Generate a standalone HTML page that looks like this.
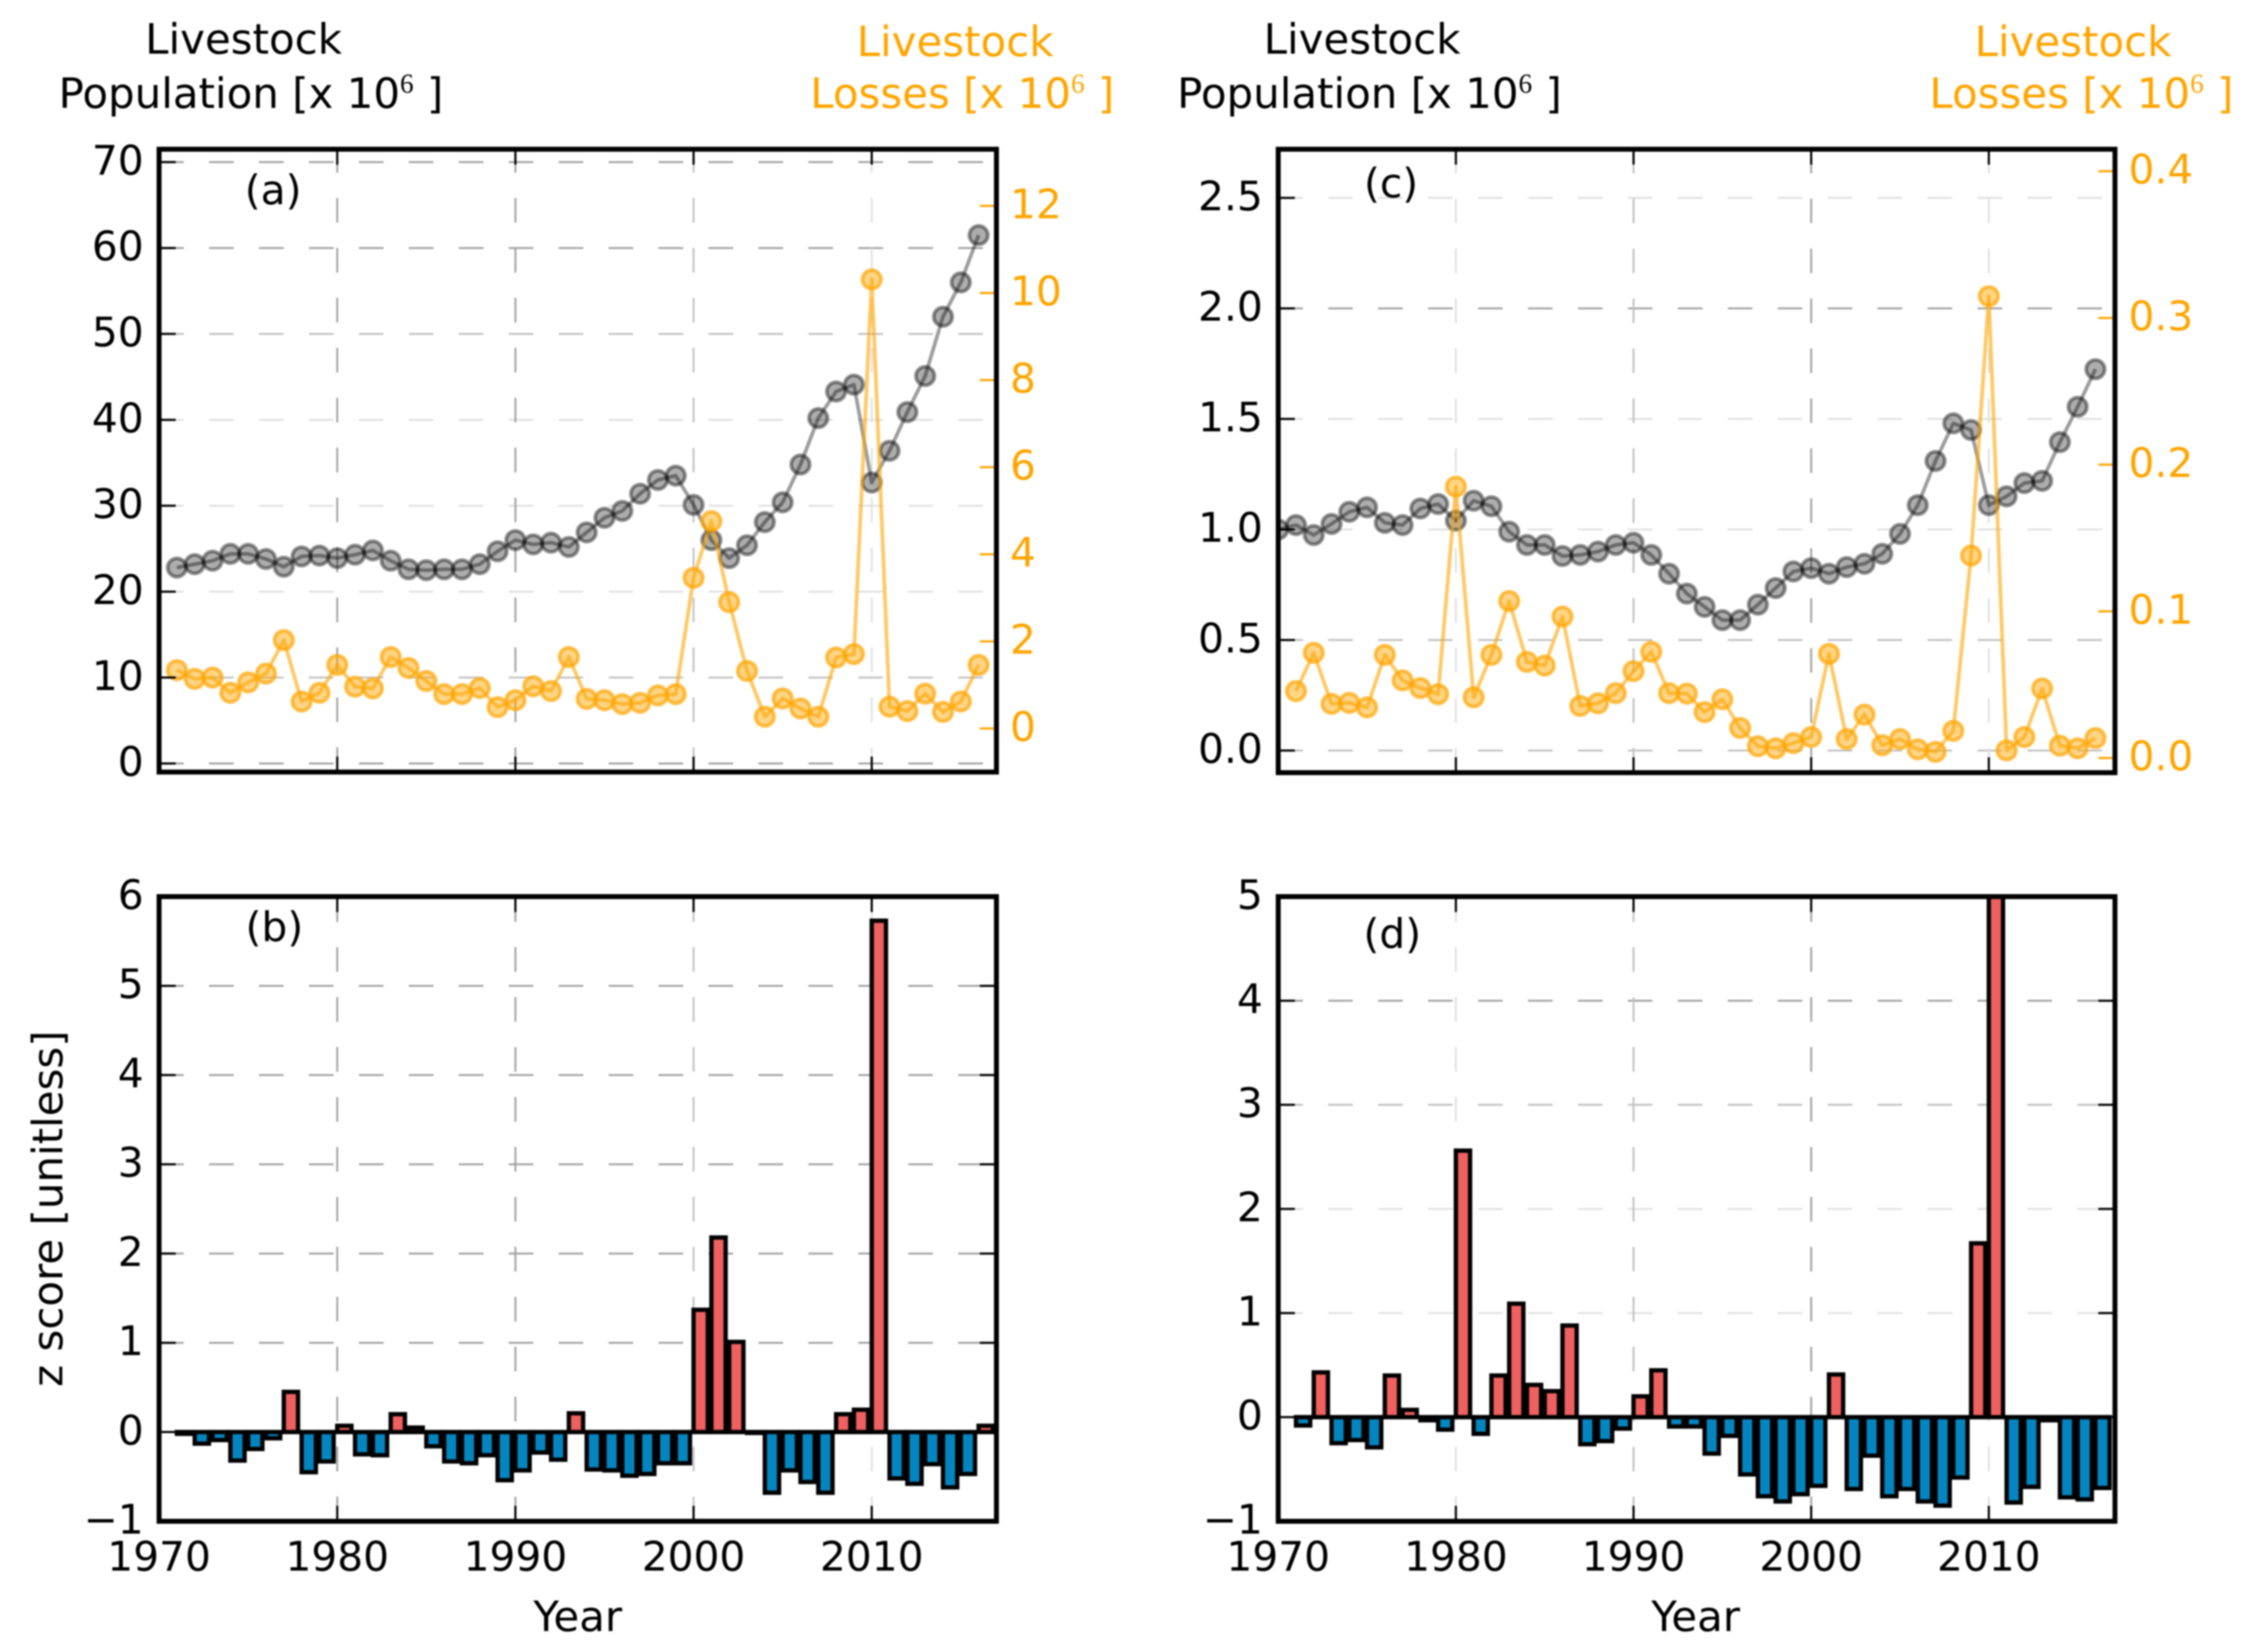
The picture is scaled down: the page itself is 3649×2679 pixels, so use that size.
<!DOCTYPE html>
<html lang="en">
<head>
<meta charset="utf-8">
<title>Livestock population and losses</title>
<style>
html,body{margin:0;padding:0;background:#fff;}
svg{display:block;filter:blur(1.2px);}
text{font-family:"DejaVu Sans","Liberation Sans",sans-serif;}
</style>
</head>
<body>
<svg id="figure" xmlns="http://www.w3.org/2000/svg" width="3649" height="2679" viewBox="0 0 3649 2679">
  <rect width="3649" height="2679" fill="#fff"/>
  <defs>
    <clipPath id="clip-a"><rect x="258" y="242" width="1358" height="1010"/></clipPath>
    <clipPath id="clip-b"><rect x="258" y="1454" width="1358" height="1013"/></clipPath>
    <clipPath id="clip-c"><rect x="2073" y="242" width="1357" height="1011"/></clipPath>
    <clipPath id="clip-d"><rect x="2073" y="1454" width="1357" height="1013"/></clipPath>
  </defs>
  <g id="panel-a"></g>
  <g id="panel-b"></g>
  <g id="panel-c"></g>
  <g id="panel-d"></g>

  <text x="395" y="87" font-size="68" text-anchor="middle" fill="#000">Livestock</text>
  <text x="95" y="175" font-size="68" fill="#000">Population [x 10<tspan font-size="44" dy="-25" font-family="Liberation Serif, serif">6</tspan><tspan dy="25"> ]</tspan></text>
  <text x="1549" y="91" font-size="68" text-anchor="middle" fill="#ffa500">Livestock</text>
  <text x="1314" y="175" font-size="68" fill="#ffa500">Losses [x 10<tspan font-size="44" dy="-25" font-family="Liberation Serif, serif">6</tspan><tspan dy="25"> ]</tspan></text>

  <text x="2209" y="87" font-size="68" text-anchor="middle" fill="#000">Livestock</text>
  <text x="1909" y="175" font-size="68" fill="#000">Population [x 10<tspan font-size="44" dy="-25" font-family="Liberation Serif, serif">6</tspan><tspan dy="25"> ]</tspan></text>
  <text x="3362" y="91" font-size="68" text-anchor="middle" fill="#ffa500">Livestock</text>
  <text x="3129" y="175" font-size="68" fill="#ffa500">Losses [x 10<tspan font-size="44" dy="-25" font-family="Liberation Serif, serif">6</tspan><tspan dy="25"> ]</tspan></text>

  <text transform="translate(101,1960) rotate(-90)" font-size="68" text-anchor="middle" fill="#000">z score [unitless]</text>
  <text x="937" y="2645" font-size="68" text-anchor="middle" fill="#000">Year</text>
  <text x="2750" y="2645" font-size="68" text-anchor="middle" fill="#000">Year</text>
</svg>

<script>
// ---- shared axis data ----
const xTickValues = [1970, 1980, 1990, 2000, 2010];
const xTickLabels = ["1970", "1980", "1990", "2000", "2010"];

// ---- panel (a) ----
const yearsA = [1971,1972,1973,1974,1975,1976,1977,1978,1979,1980,1981,1982,1983,1984,1985,1986,1987,1988,1989,1990,1991,1992,1993,1994,1995,1996,1997,1998,1999,2000,2001,2002,2003,2004,2005,2006,2007,2008,2009,2010,2011,2012,2013,2014,2015,2016];
const populationA = [22.8,23.2,23.6,24.4,24.4,23.8,22.9,24.1,24.2,23.9,24.3,24.8,23.6,22.6,22.5,22.6,22.6,23.2,24.7,26.0,25.5,25.7,25.2,26.9,28.6,29.4,31.4,33.0,33.5,30.1,26.0,23.9,25.4,28.1,30.4,34.8,40.2,43.3,44.1,32.7,36.4,40.9,45.1,52.0,56.0,61.5];
const lossesA = [1.34,1.14,1.17,0.82,1.06,1.26,2.03,0.62,0.82,1.46,0.96,0.92,1.64,1.39,1.09,0.79,0.79,0.93,0.49,0.65,0.97,0.86,1.64,0.68,0.65,0.56,0.59,0.76,0.79,3.46,4.76,2.90,1.32,0.27,0.69,0.46,0.27,1.63,1.71,10.31,0.50,0.40,0.80,0.38,0.62,1.46];
const leftTicksA = [0,10,20,30,40,50,60,70];
const leftTickLabelsA = ["0","10","20","30","40","50","60","70"];
const rightTicksA = [0,2,4,6,8,10,12];
const rightTickLabelsA = ["0","2","4","6","8","10","12"];

// ---- panel (b) ----
const yearsB = [1971,1972,1973,1974,1975,1976,1977,1978,1979,1980,1981,1982,1983,1984,1985,1986,1987,1988,1989,1990,1991,1992,1993,1994,1995,1996,1997,1998,1999,2000,2001,2002,2003,2004,2005,2006,2007,2008,2009,2010,2011,2012,2013,2014,2015,2016];
const zScoresB = [-0.02,-0.13,-0.09,-0.32,-0.19,-0.07,0.45,-0.45,-0.33,0.07,-0.25,-0.26,0.20,0.05,-0.16,-0.33,-0.35,-0.26,-0.54,-0.43,-0.23,-0.31,0.21,-0.42,-0.43,-0.49,-0.47,-0.35,-0.35,1.37,2.18,1.01,-0.01,-0.68,-0.43,-0.56,-0.68,0.20,0.25,5.73,-0.52,-0.58,-0.36,-0.62,-0.47,0.07];
const leftTicksB = [-1,0,1,2,3,4,5,6];
const leftTickLabelsB = ["\u22121","0","1","2","3","4","5","6"];

// ---- panel (c) ----
const populationYearsC = [1970,1971,1972,1973,1974,1975,1976,1977,1978,1979,1980,1981,1982,1983,1984,1985,1986,1987,1988,1989,1990,1991,1992,1993,1994,1995,1996,1997,1998,1999,2000,2001,2002,2003,2004,2005,2006,2007,2008,2009,2010,2011,2012,2013,2014,2015,2016];
const populationC = [1.00,1.02,0.975,1.025,1.08,1.10,1.03,1.02,1.095,1.115,1.04,1.13,1.105,0.99,0.93,0.93,0.88,0.885,0.90,0.93,0.94,0.885,0.80,0.71,0.65,0.59,0.59,0.66,0.735,0.81,0.825,0.80,0.83,0.845,0.89,0.98,1.11,1.31,1.48,1.45,1.11,1.15,1.21,1.22,1.395,1.555,1.725];
const lossYearsC = [1971,1972,1973,1974,1975,1976,1977,1978,1979,1980,1981,1982,1983,1984,1985,1986,1987,1988,1989,1990,1991,1992,1993,1994,1995,1996,1997,1998,1999,2000,2001,2002,2003,2004,2005,2006,2007,2008,2009,2010,2011,2012,2013,2014,2015,2016];
const lossesC = [0.0456,0.0717,0.0369,0.0376,0.0345,0.0703,0.0529,0.0477,0.0435,0.185,0.0414,0.0703,0.107,0.0655,0.063,0.0964,0.0355,0.0373,0.0442,0.0592,0.0724,0.0442,0.0439,0.0313,0.04,0.0205,0.008,0.0066,0.0101,0.0143,0.071,0.0129,0.0296,0.0087,0.0129,0.0059,0.0042,0.0185,0.138,0.3148,0.0052,0.0143,0.0474,0.0084,0.0066,0.0136];
const leftTicksC = [0,0.5,1,1.5,2,2.5];
const leftTickLabelsC = ["0.0","0.5","1.0","1.5","2.0","2.5"];
const rightTicksC = [0,0.1,0.2,0.3,0.4];
const rightTickLabelsC = ["0.0","0.1","0.2","0.3","0.4"];

// ---- panel (d) ----
const yearsD = [1971,1972,1973,1974,1975,1976,1977,1978,1979,1980,1981,1982,1983,1984,1985,1986,1987,1988,1989,1990,1991,1992,1993,1994,1995,1996,1997,1998,1999,2000,2001,2002,2003,2004,2005,2006,2007,2008,2009,2010,2011,2012,2013,2014,2015,2016];
const zScoresD = [-0.08,0.43,-0.25,-0.22,-0.29,0.40,0.07,-0.03,-0.12,2.56,-0.16,0.40,1.09,0.31,0.25,0.88,-0.26,-0.23,-0.11,0.20,0.45,-0.09,-0.09,-0.35,-0.18,-0.55,-0.76,-0.81,-0.74,-0.66,0.41,-0.69,-0.37,-0.76,-0.69,-0.81,-0.85,-0.58,1.67,5.60,-0.82,-0.67,-0.03,-0.77,-0.79,-0.68];
const leftTicksD = [-1,0,1,2,3,4,5];
const leftTickLabelsD = ["\u22121","0","1","2","3","4","5"];

// ---- rendering ----
const SVG_NS = "http://www.w3.org/2000/svg";
const ORANGE = "#ffa500";
const TICK_FONT = 66;
const TICK_LABEL_DROP = 20;
const GRID_DARK = "#a0a0a0", GRID_MID = "#c0c0c0", GRID_LIGHT = "#e0e0e0";

function make(tag, attrs, parent, text) {
  const node = document.createElementNS(SVG_NS, tag);
  for (const key in attrs) node.setAttribute(key, attrs[key]);
  if (text !== undefined) node.textContent = text;
  parent.appendChild(node);
  return node;
}
function linearScale(domainLow, domainHigh, rangeLow, rangeHigh) {
  return function (value) {
    return rangeLow + (value - domainLow) / (domainHigh - domainLow) * (rangeHigh - rangeLow);
  };
}

function drawGrid(parent, box, xAxis, yAxis, yTicks, xTones, yTones) {
  const layer = make("g", {}, parent);
  
  
  yTicks.forEach(function (tick, i) {
    if (yTones[i] === null) return;
    const line = make("line", {x1: box.left, x2: box.right, y1: yAxis(tick), y2: yAxis(tick), stroke: yTones[i], "stroke-width": 3, "stroke-dasharray": "40 41"}, layer);
    
    
  });
  xTickValues.forEach(function (tick, i) {
    if (xTones[i] === null) return;
    const line = make("line", {x1: xAxis(tick), x2: xAxis(tick), y1: box.bottom, y2: box.top, stroke: xTones[i], "stroke-width": 3, "stroke-dasharray": "40 41"}, layer);
    
    
  });
}

function drawFrame(parent, box, xAxis, yAxis, yTicks, yLabels, opts) {
  const frame = make("g", {}, parent);
  
  
  xTickValues.forEach(function (tick) {
    const x = xAxis(tick);
    const bottomTick = make("line", {x1: x, x2: x, y1: box.bottom, y2: box.bottom - 25, stroke: "#000", "stroke-width": 3.5}, frame);
    
    
    const topTick = make("line", {x1: x, x2: x, y1: box.top, y2: box.top + 25, stroke: "#000", "stroke-width": 3.5}, frame);
    
    
  });
  yTicks.forEach(function (tick, i) {
    const y = yAxis(tick);
    const leftTick = make("line", {x1: box.left, x2: box.left + 27, y1: y, y2: y, stroke: "#000", "stroke-width": 3.5}, frame);
    
    
    if (opts.mirrorTicks) {
      const mirrorTick = make("line", {x1: box.right, x2: box.right - 27, y1: y, y2: y, stroke: "#000", "stroke-width": 3.5}, frame);
      
      
    }
    const label = make("text", {x: box.left - 25, y: y + TICK_LABEL_DROP, "font-size": TICK_FONT, "text-anchor": "end", fill: "#000"}, frame, yLabels[i]);
    
    
  });
  if (opts.xLabels) {
    xTickValues.forEach(function (tick, i) {
      const label = make("text", {x: xAxis(tick), y: box.bottom + 80, "font-size": TICK_FONT, "text-anchor": "middle", fill: "#000"}, frame, xTickLabels[i]);
      
      
    });
  }
  const border = make("rect", {x: box.left, y: box.top, width: box.right - box.left, height: box.bottom - box.top, fill: "none", stroke: "#000", "stroke-width": 8}, frame);
  
  
}

function drawRightAxis(parent, box, yAxis, ticks, labels) {
  const axis = make("g", {}, parent);
  
  
  ticks.forEach(function (tick, i) {
    const y = yAxis(tick);
    const mark = make("line", {x1: box.right - 4, x2: box.right - 27, y1: y, y2: y, stroke: ORANGE, "stroke-width": 3.5}, axis);
    
    
    const label = make("text", {x: box.right + 22, y: y + TICK_LABEL_DROP, "font-size": TICK_FONT, fill: ORANGE}, axis, labels[i]);
    
    
  });
}

function drawSeries(parent, clipId, xAxis, yAxis, years, values, style, seriesName) {
  const group = make("g", {"clip-path": "url(#" + clipId + ")"}, parent);
  
  
  const points = years.map(function (year, i) { return xAxis(year).toFixed(1) + "," + yAxis(values[i]).toFixed(1); });
  const path = make("polyline", {points: points.join(" "), fill: "none", stroke: style.line, "stroke-opacity": style.lineOpacity, "stroke-width": 6, "stroke-linejoin": "round"}, group);
  
  
  years.forEach(function (year, i) {
    const point = make("circle", {cx: xAxis(year), cy: yAxis(values[i]), r: 15, fill: style.fill, "fill-opacity": style.fillOpacity, stroke: style.edge, "stroke-opacity": style.edgeOpacity, "stroke-width": 6}, group);
    
    
  });
}

function drawBars(parent, clipId, xAxis, yAxis, years, values) {
  const group = make("g", {"clip-path": "url(#" + clipId + ")"}, parent);
  
  
  const baseline = yAxis(0);
  years.forEach(function (year, i) {
    const x0 = xAxis(year);
    const x1 = xAxis(year + 0.8);
    const y = yAxis(values[i]);
    const bar = make("rect", {x: x0, y: Math.min(y, baseline), width: x1 - x0, height: Math.abs(baseline - y), fill: values[i] >= 0 ? "#ef6060" : "#0585bf", stroke: "#000", "stroke-width": 7}, group);
    
    
  });
}

function panelLabel(parent, x, y, text) {
  const label = make("text", {x: x, y: y, "font-size": 66, "text-anchor": "middle", fill: "#000"}, parent, text);
  
  
}

const GREY_STYLE = {line: "#000", lineOpacity: 0.38, fill: "#000", fillOpacity: 0.32, edge: "#000", edgeOpacity: 0.42};
const ORANGE_STYLE = {line: ORANGE, lineOpacity: 0.6, fill: ORANGE, fillOpacity: 0.48, edge: ORANGE, edgeOpacity: 0.68};

const boxA = {left: 258, right: 1616, top: 242, bottom: 1252};
const boxB = {left: 258, right: 1616, top: 1454, bottom: 2467};
const boxC = {left: 2073, right: 3430, top: 242, bottom: 1253};
const boxD = {left: 2073, right: 3430, top: 1454, bottom: 2467};

(function () {
  const parent = document.getElementById("panel-a");
  const x = linearScale(1970, 2017, boxA.left, boxA.right);
  const yLeft = linearScale(-1, 71.5, boxA.bottom, boxA.top);
  const yRight = linearScale(-1, 13.3, boxA.bottom, boxA.top);
  drawGrid(parent, boxA, x, yLeft, leftTicksA,
    [null, GRID_DARK, GRID_DARK, GRID_MID, GRID_LIGHT],
    [GRID_DARK, GRID_MID, GRID_LIGHT, GRID_LIGHT, GRID_LIGHT, GRID_MID, GRID_DARK, GRID_DARK]);
  drawSeries(parent, "clip-a", x, yLeft, yearsA, populationA, GREY_STYLE, "population");
  drawSeries(parent, "clip-a", x, yRight, yearsA, lossesA, ORANGE_STYLE, "losses");
  drawFrame(parent, boxA, x, yLeft, leftTicksA, leftTickLabelsA, {mirrorTicks: false, xLabels: false});
  drawRightAxis(parent, boxA, yRight, rightTicksA, rightTickLabelsA);
  panelLabel(parent, 443, 331, "(a)");
})();

(function () {
  const parent = document.getElementById("panel-b");
  const x = linearScale(1970, 2017, boxB.left, boxB.right);
  const y = linearScale(-1, 6, boxB.bottom, boxB.top);
  drawGrid(parent, boxB, x, y, leftTicksB,
    [null, GRID_DARK, GRID_DARK, GRID_MID, GRID_LIGHT],
    [null, null, GRID_DARK, GRID_DARK, GRID_DARK, GRID_DARK, GRID_DARK, null]);
  drawBars(parent, "clip-b", x, y, yearsB, zScoresB);
  drawFrame(parent, boxB, x, y, leftTicksB, leftTickLabelsB, {mirrorTicks: true, xLabels: true});
  panelLabel(parent, 445, 1526, "(b)");
})();

(function () {
  const parent = document.getElementById("panel-c");
  const x = linearScale(1970, 2017.1, boxC.left, boxC.right);
  const yLeft = linearScale(-0.1, 2.72, boxC.bottom, boxC.top);
  const yRight = linearScale(-0.01, 0.415, boxC.bottom, boxC.top);
  drawGrid(parent, boxC, x, yLeft, leftTicksC,
    [null, GRID_LIGHT, GRID_MID, GRID_DARK, GRID_LIGHT],
    [GRID_MID, GRID_MID, GRID_LIGHT, GRID_LIGHT, GRID_DARK, GRID_LIGHT]);
  drawSeries(parent, "clip-c", x, yLeft, populationYearsC, populationC, GREY_STYLE, "population");
  drawSeries(parent, "clip-c", x, yRight, lossYearsC, lossesC, ORANGE_STYLE, "losses");
  drawFrame(parent, boxC, x, yLeft, leftTicksC, leftTickLabelsC, {mirrorTicks: false, xLabels: false});
  drawRightAxis(parent, boxC, yRight, rightTicksC, rightTickLabelsC);
  panelLabel(parent, 2256, 320, "(c)");
})();

(function () {
  const parent = document.getElementById("panel-d");
  const x = linearScale(1970, 2017.1, boxD.left, boxD.right);
  const y = linearScale(-1, 5, boxD.bottom, boxD.top);
  drawGrid(parent, boxD, x, y, leftTicksD,
    [null, GRID_LIGHT, GRID_MID, GRID_DARK, GRID_LIGHT],
    [null, null, GRID_LIGHT, GRID_LIGHT, GRID_MID, GRID_DARK, null]);
  drawBars(parent, "clip-d", x, y, yearsD, zScoresD);
  drawFrame(parent, boxD, x, y, leftTicksD, leftTickLabelsD, {mirrorTicks: true, xLabels: true});
  panelLabel(parent, 2258, 1537, "(d)");
})();
</script>
</body>
</html>
